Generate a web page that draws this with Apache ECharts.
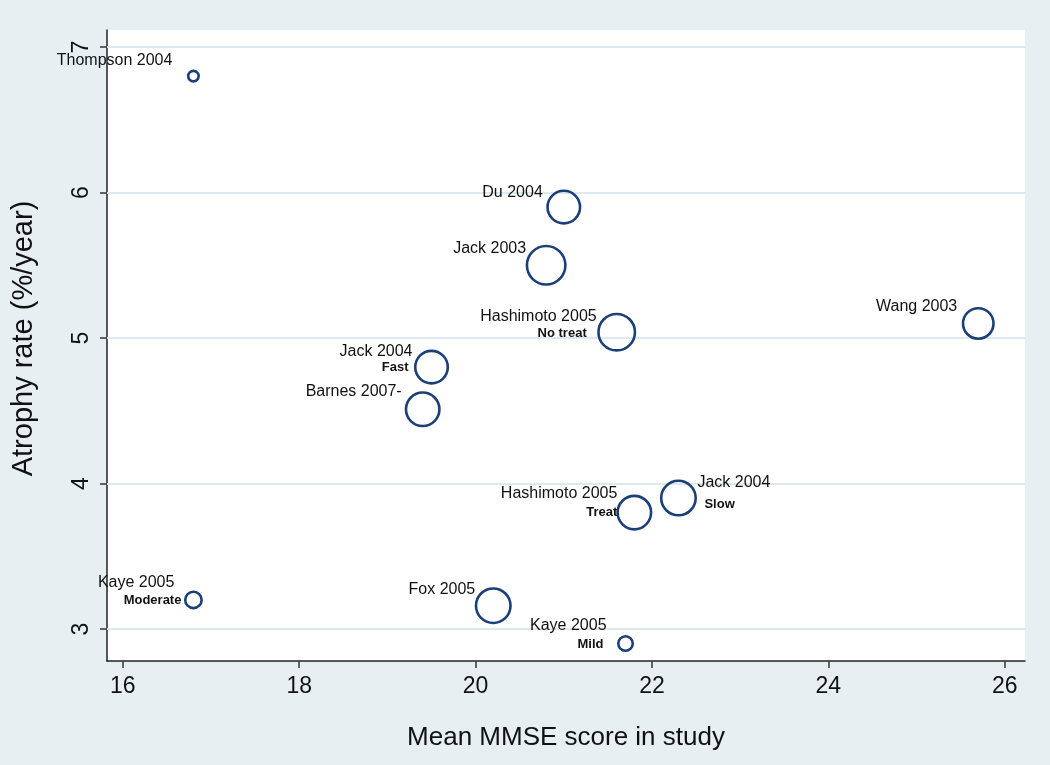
<!DOCTYPE html>
<html>
<head>
<meta charset="utf-8">
<script src="https://cdn.jsdelivr.net/npm/echarts@6/dist/echarts.min.js"></script>
<style>
html,body{margin:0;padding:0;background:#e8eff3;}
#chart{width:1050px;height:765px;}
</style>
</head>
<body>
<div id="chart"></div>
<script>
// ---- data ----
const studies   = ['Thompson 2004','Kaye 2005','Du 2004','Jack 2003','Hashimoto 2005','Wang 2003','Jack 2004','Barnes 2007-','Hashimoto 2005','Jack 2004','Fox 2005','Kaye 2005'];
const subgroups = ['','Moderate','','','No treat','','Fast','','Treat','Slow','','Mild'];
const mmse      = [16.8, 16.8, 21.0, 20.8, 21.6, 25.7, 19.5, 19.4, 21.8, 22.3, 20.2, 21.7];
const atrophy   = [6.8, 3.2, 5.9, 5.5, 5.04, 5.1, 4.8, 4.51, 3.8, 3.9, 3.16, 2.9];
const weight    = [11, 27, 106, 148, 133, 93, 106, 112, 112, 119, 119, 21];
const xTicks    = [16, 18, 20, 22, 24, 26];
const yTicks    = [3, 4, 5, 6, 7];
const xTitle    = 'Mean MMSE score in study';
const yTitle    = 'Atrophy rate (%/year)';

// ---- label placement (style only) ----
const labelPlace = [
  {side:'left', dx:-21, dy:-16},
  {side:'left', dx:-12, dy:-8,  lh:18, padA:7,  padB:0},
  {side:'left', dx:-21, dy:-14},
  {side:'left', dx:-20, dy:-17},
  {side:'left', dx:-20, dy:-7.5,lh:17, padA:0,  padB:10},
  {side:'left', dx:-21, dy:-17},
  {side:'left', dx:-19, dy:-8,  lh:16, padA:0,  padB:4},
  {side:'left', dx:-21, dy:-18},
  {side:'left', dx:-17, dy:-9.5,lh:19, padA:0,  padB:0},
  {side:'right',dx:19,  dy:-4.5,lh:21, padA:0,  padB:7},
  {side:'left', dx:-18, dy:-16},
  {side:'left', dx:-19, dy:-8.5,lh:19, padA:0,  padB:3}
];

const NAVY = '#1b3f78';
const FONT = '"Liberation Sans", Arial, sans-serif';

const items = mmse.map((x, i) => {
  const p = labelPlace[i];
  const align = p.side === 'left' ? 'right' : 'left';
  const hasSub = subgroups[i] !== '';
  const pad = v => align === 'right' ? [0, v || 0, 0, 0] : [0, 0, 0, v || 0];
  return {
    value: [x, atrophy[i], weight[i]],
    label: {
      show: true,
      position: 'inside',
      offset: [p.dx, p.dy],
      align: align,
      verticalAlign: 'middle',
      formatter: hasSub ? '{a|' + studies[i] + '}\n{b|' + subgroups[i] + '}' : '{a|' + studies[i] + '}',
      rich: {
        a: {fontSize: 16, fontFamily: FONT, color: '#111', align: align, lineHeight: p.lh || 18, padding: pad(p.padA)},
        b: {fontSize: 13, fontWeight: 'bold', fontFamily: FONT, color: '#111', align: align, lineHeight: p.lh || 18, padding: pad(p.padB)}
      }
    }
  };
});

const chart = echarts.init(document.getElementById('chart'), null, {renderer: 'canvas'});
chart.setOption({
  backgroundColor: '#e8eff3',
  animation: false,
  grid: {left: 107, right: 25, top: 30, bottom: 104, show: true, backgroundColor: '#ffffff', borderWidth: 0},
  xAxis: {
    type: 'value', min: 15.82, max: 26.23,
    name: xTitle, nameLocation: 'middle', nameGap: 64,
    nameTextStyle: {fontSize: 26, fontFamily: FONT, color: '#111'},
    axisLine: {show: true, onZero: false, lineStyle: {color: '#222', width: 1.5}},
    axisTick: {show: true, length: 7, lineStyle: {color: '#333', width: 1.5}, customValues: xTicks},
    axisLabel: {fontSize: 23, fontFamily: FONT, color: '#111', margin: 14, customValues: xTicks},
    splitLine: {show: false}
  },
  yAxis: {
    type: 'value', min: 2.78, max: 7.117,
    name: yTitle, nameLocation: 'middle', nameGap: 69, nameRotate: 90,
    nameTextStyle: {fontSize: 29, fontFamily: FONT, color: '#111', padding: [0, 0, 0, 14]},
    axisLine: {show: true, onZero: false, lineStyle: {color: '#222', width: 1.5}},
    axisTick: {show: true, length: 7, lineStyle: {color: '#333', width: 1.5}, customValues: yTicks},
    axisLabel: {fontSize: 23, fontFamily: FONT, color: '#111', margin: 14, rotate: 90, customValues: yTicks},
    splitLine: {show: false}
  },
  series: [{
    type: 'scatter',
    data: [],
    silent: true,
    z: 1,
    markLine: {
      silent: true, symbol: 'none', animation: false,
      label: {show: false},
      lineStyle: {color: '#dce9ee', width: 2, type: 'solid'},
      data: yTicks.map(v => ({yAxis: v}))
    }
  }, {
    type: 'scatter',
    symbol: 'circle',
    symbolSize: v => Math.sqrt(v[2] * 10),
    itemStyle: {color: 'rgba(0,0,0,0)', borderColor: NAVY, borderWidth: 2.6, opacity: 1},
    emphasis: {disabled: true},
    data: items,
    z: 5
  }]
});
</script>
</body>
</html>
